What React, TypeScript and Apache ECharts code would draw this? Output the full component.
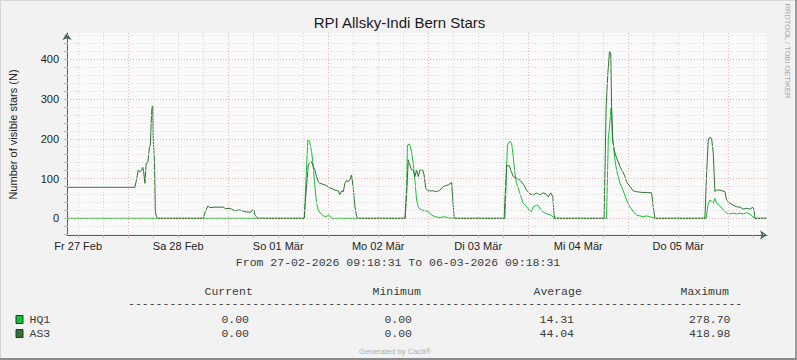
import React, { useEffect, useRef } from 'react';
import * as echarts from 'echarts';

const chartTitle = 'RPI Allsky-Indi Bern Stars';
const yAxisTitle = 'Number of visible stars (N)';
const watermark = 'RRDTOOL / TOBI OETIKER';
const rangeText = 'From 27-02-2026 09:18:31 To 06-03-2026 09:18:31';
const footer = 'Generated by Cacti®';

const dayLabels = ['Fr 27 Feb', 'Sa 28 Feb', 'So 01 Mär', 'Mo 02 Mär', 'Di 03 Mär', 'Mi 04 Mär', 'Do 05 Mär'];
const yLabelValues = [0, 100, 200, 300, 400];

const legendHeaders = ['Current', 'Minimum', 'Average', 'Maximum'];
const seriesNames = ['HQ1', 'AS3'];
const hq1Stats = ['0.00', '0.00', '14.31', '278.70'];
const as3Stats = ['0.00', '0.00', '44.04', '418.98'];

// [hours since 27-02-2026 09:18:31, stars]
const hq1: [number, number][] = [
  [0, 0], [57.0, 0], [57.2, 60], [57.8, 197], [58.2, 194], [58.7, 168], [59.1, 130], [59.5, 80], [59.9, 38],
  [60.3, 21], [60.7, 14], [61.5, 6], [62.3, 4], [62.7, 8], [63.1, 6], [63.5, 0],
  [81.2, 0], [81.5, 80], [81.7, 184], [82.2, 187], [82.7, 168], [83.1, 138], [83.5, 96], [83.9, 46], [84.3, 29],
  [84.7, 23], [85.1, 21], [85.9, 19], [86.7, 17], [87.5, 8], [88.3, 4], [89.5, 2], [90.7, 4], [91.5, 1], [93.1, 0],
  [105.1, 0], [105.7, 184], [106.3, 194], [106.7, 189], [107.1, 155], [107.5, 113], [107.9, 88], [108.7, 63],
  [109.5, 38], [110.3, 29], [111.1, 19], [111.5, 17], [111.9, 29], [112.7, 33], [113.1, 32], [113.9, 19],
  [114.7, 13], [115.5, 10], [116.3, 7], [116.9, 0],
  [129.5, 0], [129.9, 197], [130.6, 279], [130.9, 197], [131.1, 189], [131.5, 147], [131.9, 121], [132.3, 105],
  [132.7, 88], [133.1, 80], [133.7, 63], [134.3, 46], [135.1, 29], [135.9, 17], [136.7, 8], [137.5, 6], [138.3, 4],
  [139.1, 6], [139.9, 4], [140.7, 1], [141.1, 0],
  [153.4, 0], [153.9, 38], [154.3, 46], [154.7, 42], [155.1, 38], [155.5, 50], [155.9, 38], [156.5, 33],
  [157.5, 21], [158.3, 13], [159.1, 11], [159.9, 13], [160.7, 11], [161.5, 13], [162.3, 11], [163.1, 14],
  [163.9, 11], [164.6, 4], [164.9, 0], [168, 0],
];

const as3: [number, number][] = [
  [0, 78], [16.3, 78], [16.7, 98], [17.1, 121], [17.5, 117], [17.8, 120], [18.2, 128], [18.4, 117], [18.7, 88],
  [19.0, 138], [19.4, 140], [19.8, 180], [20.0, 182], [20.2, 239], [20.4, 282], [20.6, 281], [20.7, 197],
  [21.0, 142], [21.2, 17], [21.5, 4], [21.7, 0],
  [32.7, 0], [33.2, 17], [33.8, 31], [34.2, 27], [35.5, 28], [37.5, 28], [38.1, 24], [39.1, 25], [39.5, 23],
  [40.3, 19], [41.5, 21], [42.3, 18], [43.1, 16], [44.1, 15], [44.5, 21], [44.9, 20], [45.1, 8], [45.5, 4], [45.8, 0],
  [56.9, 0], [57.1, 29], [57.9, 134], [58.3, 140], [58.7, 142], [59.1, 130], [59.5, 121], [59.9, 105], [60.3, 92],
  [60.7, 88], [61.9, 84], [63.1, 77], [64.3, 71], [65.1, 69], [65.5, 59], [65.9, 69], [66.3, 67], [66.7, 88],
  [67.1, 95], [67.5, 92], [67.9, 98], [68.3, 109], [68.7, 75], [69.1, 29], [69.5, 4], [69.8, 0],
  [81.1, 0], [81.5, 60], [81.9, 147], [82.7, 121], [83.1, 121], [83.5, 105], [83.9, 121], [84.3, 105], [84.7, 121],
  [85.4, 121], [85.7, 109], [86.1, 75], [86.7, 69], [87.9, 69], [88.7, 67], [89.5, 71], [90.3, 80], [91.5, 84],
  [92.3, 90], [92.6, 46], [92.9, 4], [93.1, 0],
  [104.9, 0], [105.5, 132], [106.2, 132], [106.5, 121], [107.1, 105], [107.9, 101], [108.7, 96], [109.5, 86],
  [110.3, 71], [111.1, 61], [111.9, 59], [112.7, 63], [113.5, 59], [114.3, 64], [115.1, 60], [115.5, 54],
  [116.1, 64], [116.6, 54], [116.9, 8], [117.1, 0],
  [128.9, 0], [129.4, 281], [129.8, 365], [130.2, 419], [130.5, 415], [130.7, 281], [131.0, 197], [131.3, 172],
  [131.8, 155], [132.3, 142], [132.7, 130], [133.4, 117], [133.9, 105], [134.3, 92], [135.1, 80], [135.9, 69],
  [136.7, 67], [137.9, 65], [139.1, 65], [140.3, 64], [140.7, 29], [141.1, 0],
  [153.1, 0], [153.5, 113], [153.9, 197], [154.3, 204], [154.7, 201], [155.1, 164], [155.5, 67], [155.9, 71],
  [156.7, 71], [157.9, 67], [158.3, 46], [159.1, 38], [159.9, 33], [160.7, 29], [161.5, 28], [162.3, 23],
  [163.1, 25], [163.9, 23], [164.6, 28], [164.9, 21], [165.1, 0], [168, 0],
];

const HQ1_COLOR = '#12c232';
const AS3_COLOR = '#2e7432';
const AXIS_COLOR = '#46645a';
const SANS = 'Liberation Sans';
const MONO = 'Liberation Mono';

export default function App() {
  const ref = useRef<HTMLDivElement>(null);
  useEffect(() => {
    if (!ref.current) return;
    const chart = echarts.init(ref.current, null, { renderer: 'svg' });

    const startTod = 9 + 18 / 60 + 31 / 3600;
    const span = 168;
    const sixHour: number[] = [];
    for (let t = 12 - startTod; t <= span; t += 6) sixHour.push(t);
    const noon = dayLabels.map((_, i) => 12 - startTod + 24 * i);
    const yTicks: number[] = [];
    for (let v = -40; v <= 460; v += 20) yTicks.push(v);

    const isMidnight = (t: number) => {
      const r = (t + startTod) % 24;
      return Math.abs(r) < 0.01 || Math.abs(r - 24) < 0.01;
    };
    const MINOR = '#dadada';
    const MAJOR = '#e9b4b4';
    const gridData: any[] = [];
    sixHour.forEach((t) => {
      gridData.push({ xAxis: t, lineStyle: { color: isMidnight(t) ? MAJOR : MINOR, type: [1, 2], width: 1 } });
    });
    yTicks.forEach((v) => {
      gridData.push({ yAxis: v, lineStyle: { color: v % 100 === 0 ? MAJOR : MINOR, type: [1, 2], width: 1 } });
    });

    const monoStyle = (text: string, align: string) => ({
      text, fontFamily: MONO, fontSize: 11.5, fill: '#3a3a3a', align, verticalAlign: 'middle',
    });
    const colsHeaderX = [204.5, 372.5, 533.5, 680.5];
    const colsValueX = [249, 412, 574, 730.5];
    const legendEls: any[] = [];
    legendHeaders.forEach((h, i) => {
      legendEls.push({ type: 'text', x: colsHeaderX[i], y: 291, style: monoStyle(h, 'left') });
    });
    legendEls.push({ type: 'text', x: 128, y: 303, style: monoStyle('-'.repeat(89), 'left') });
    const rows = [
      { name: seriesNames[0], color: HQ1_COLOR, stats: hq1Stats, y: 319 },
      { name: seriesNames[1], color: AS3_COLOR, stats: as3Stats, y: 333 },
    ];
    rows.forEach((r) => {
      legendEls.push({ type: 'rect', shape: { x: 16, y: r.y - 3.5, width: 7, height: 8 }, style: { fill: r.color, stroke: '#333', lineWidth: 1 } });
      legendEls.push({ type: 'text', x: 29.5, y: r.y, style: monoStyle(r.name, 'left') });
      r.stats.forEach((s, i) => {
        legendEls.push({ type: 'text', x: colsValueX[i], y: r.y, style: monoStyle(s, 'right') });
      });
    });

    const option: any = {
      animation: false,
      backgroundColor: '#f2f2f2',
      grid: { left: 67, top: 33, width: 700, height: 202, show: true, backgroundColor: '#fafafa', borderWidth: 0 },
      xAxis: {
        type: 'value', min: 0, max: span,
        axisLine: { show: true, onZero: false, symbol: ['none', 'arrow'], symbolSize: [7, 7], lineStyle: { color: AXIS_COLOR, width: 1 } },
        axisTick: { show: true, customValues: sixHour, length: 3, lineStyle: { color: '#b8b8b8' } },
        axisLabel: {
          customValues: noon, margin: 5, fontFamily: SANS, fontSize: 11, color: '#222',
          formatter: (v: number) => dayLabels[Math.round((v - (12 - startTod)) / 24)] ?? '',
        },
        splitLine: { show: false },
      },
      yAxis: {
        type: 'value', min: -42, max: 466,
        axisLine: { show: true, onZero: false, symbol: ['none', 'arrow'], symbolSize: [7, 7], lineStyle: { color: AXIS_COLOR, width: 1 } },
        axisTick: { show: true, customValues: yTicks, length: 3, lineStyle: { color: '#b8b8b8' } },
        axisLabel: { customValues: yLabelValues, margin: 8, fontFamily: SANS, fontSize: 11, color: '#222' },
        splitLine: { show: false },
      },
      series: [
        {
          type: 'line', data: [[0, 0]], symbol: 'none', lineStyle: { width: 0, opacity: 0 }, z: 1, silent: true,
          markLine: { silent: true, symbol: ['none', 'none'], label: { show: false }, emphasis: { disabled: true }, animation: false, data: gridData },
        },
        { name: seriesNames[0], type: 'line', data: hq1, symbol: 'none', lineStyle: { width: 1, color: HQ1_COLOR }, z: 3 },
        { name: seriesNames[1], type: 'line', data: as3, symbol: 'none', lineStyle: { width: 1, color: AS3_COLOR }, z: 4 },
      ],
      graphic: [
        { type: 'rect', shape: { x: 0, y: 0, width: 797, height: 1 }, style: { fill: '#d6d6d6' } },
        { type: 'rect', shape: { x: 0, y: 0, width: 1, height: 360 }, style: { fill: '#d6d6d6' } },
        { type: 'rect', shape: { x: 795, y: 0, width: 2, height: 360 }, style: { fill: '#9a9a9a' } },
        { type: 'rect', shape: { x: 0, y: 358, width: 797, height: 2 }, style: { fill: '#8a8a8a' } },
        { type: 'text', x: 399.5, y: 22, style: { text: chartTitle, fontFamily: SANS, fontSize: 15, fill: '#1a1a1a', align: 'center', verticalAlign: 'middle' } },
        { type: 'text', x: 12.5, y: 134.5, rotation: Math.PI / 2, style: { text: yAxisTitle, fontFamily: SANS, fontSize: 11, fill: '#222', align: 'center', verticalAlign: 'middle' } },
        { type: 'text', x: 787.5, y: 51, rotation: -Math.PI / 2, style: { text: watermark, fontFamily: SANS, fontSize: 7.5, fill: '#a8a8a8', align: 'center', verticalAlign: 'middle' } },
        { type: 'text', x: 398, y: 262.5, style: { text: rangeText, fontFamily: MONO, fontSize: 11.5, fill: '#3a3a3a', align: 'center', verticalAlign: 'middle' } },
        { type: 'text', x: 395, y: 351, style: { text: footer, fontFamily: SANS, fontSize: 7.7, fill: '#b0b0b0', align: 'center', verticalAlign: 'middle' } },
        ...legendEls,
      ],
    };
    chart.setOption(option);
    return () => chart.dispose();
  }, []);
  return <div ref={ref} style={{ position: 'fixed', left: 0, top: 0, width: 797, height: 360 }} />;
}
